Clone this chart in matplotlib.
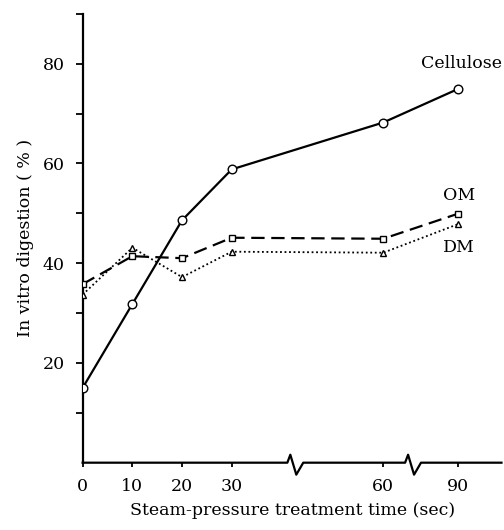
import numpy as np
import matplotlib
matplotlib.use('Agg')
import matplotlib.pyplot as plt

# Data
times = [0, 10, 20, 30, 60, 90]
cellulose = [15.0, 31.8, 48.6, 58.8, 68.2, 74.9]
om = [35.8, 41.4, 41.0, 45.1, 44.9, 49.9]
dm = [33.7, 43.1, 37.2, 42.3, 42.1, 47.8]
x_tick_labels = ['0', '10', '20', '30', '60', '90']

# Broken time axis: piecewise mapping from seconds to plot position
axis_times = [0, 30, 60, 90]
axis_pos = [0, 3, 6.05, 7.55]
break_pos = [4.2, 6.57]


def to_pos(t):
    return np.interp(t, axis_times, axis_pos)


plt.rcParams['font.family'] = 'DejaVu Serif'
plt.rcParams['font.size'] = 12.5

fig = plt.figure(figsize=(5.04, 5.30), dpi=100)
ax = fig.add_axes([0.164, 0.127, 0.831, 0.847])

x = to_pos(times)
ax.plot(x, cellulose, '-', color='black', lw=1.6, marker='o', ms=6.2,
        mfc='white', mec='black', mew=1.0, zorder=3)
ax.plot(x, om, color='black', lw=1.6, ls=(0, (6, 3)), marker='s', ms=5,
        mfc='white', mec='black', mew=1.0, zorder=3)
ax.plot(x, dm, color='black', lw=1.3, ls=(0, (1, 1.5)), marker='^', ms=5,
        mfc='white', mec='black', mew=1.0, zorder=3)

ax.text(x[-1] + 0.08, 80, 'Cellulose', ha='center', va='center')
ax.text(x[-1] + 0.02, 53.5, 'OM', ha='center', va='center')
ax.text(x[-1] + 0.02, 43.2, 'DM', ha='center', va='center')

xmax = 8.43
ax.set_xlim(0, xmax)
ax.set_ylim(0, 90)

ax.set_xticks(to_pos(times))
ax.set_xticklabels(x_tick_labels)
ax.set_yticks([20, 40, 60, 80])
ax.set_yticks([10, 30, 50, 70, 90], minor=True)
ax.tick_params(axis='y', which='both', direction='out', length=5, width=1.3, pad=8)
ax.tick_params(axis='x', direction='out', length=3, width=1.3, pad=8)

for s in ['top', 'right', 'bottom']:
    ax.spines[s].set_visible(False)
ax.spines['left'].set_linewidth(1.6)

# bottom axis line with zigzag breaks
seg_x = [0]
seg_y = [0]
for b in break_pos:
    seg_x += [b - 0.08, b - 0.02, b + 0.1, b + 0.24]
    seg_y += [0, 1.6, -2.4, 0]
seg_x.append(xmax)
seg_y.append(0)
ax.plot(seg_x, seg_y, color='black', lw=1.6, clip_on=False, zorder=2)

ax.set_xlabel('Steam-pressure treatment time (sec)', labelpad=5)
ax.set_ylabel('In vitro digestion ( % )', labelpad=6)

fig.savefig('out.png', dpi=100)
